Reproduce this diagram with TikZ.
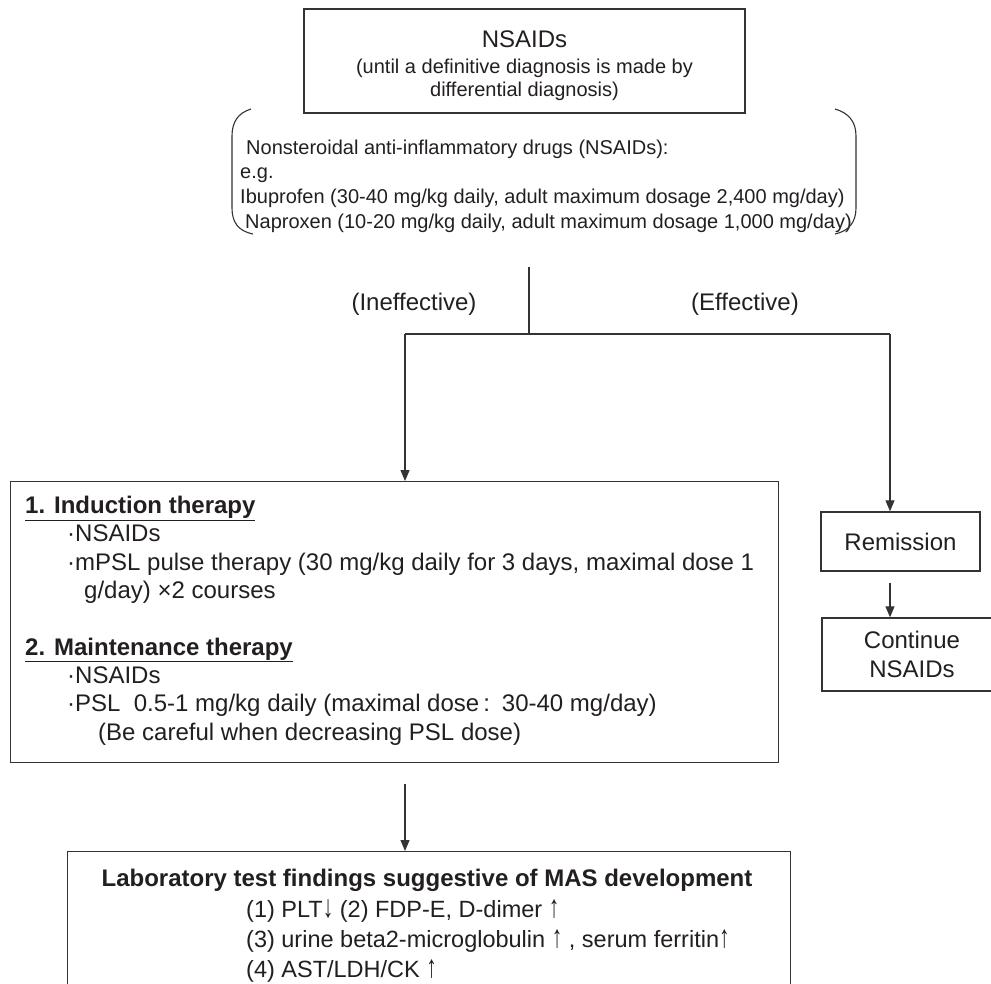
\documentclass[tikz,border=0pt]{standalone}
\usepackage{fontspec}
\setmainfont{Liberation Sans}
\usetikzlibrary{arrows.meta, positioning, calc}
\definecolor{inkgrey}{HTML}{231F20}
\definecolor{linegrey}{HTML}{333333}
\newcommand{\uparr}{\scalebox{0.9}[1.35]{↑}}
\newcommand{\downarr}{\scalebox{0.9}[1.35]{↓}}

\begin{document}
\begin{tikzpicture}[
    x=1pt, y=-1pt,
    >={Triangle[length=11pt,width=9pt]},
    every node/.style={text=inkgrey},
    bigtext/.style={font=\fontsize{24}{28.3}\selectfont},
    smalltext/.style={font=\fontsize{20}{24.7}\selectfont},
    box/.style={draw=linegrey, line width=1.4pt, fill=white},
    link/.style={draw=linegrey, line width=1.2pt},
]
\clip (0,0) rectangle (991,983);

% ================= TOP: first-line NSAIDs =================
\node[box, minimum width=441, minimum height=104, inner sep=0pt] (nsaid) at (524.5,61) {};
\node[align=center, inner sep=0pt, font=\fontsize{20}{23.5}\selectfont] (nsaidtext) at ($(nsaid.center)+(0,4.5)$) {{\fontsize{24}{27}\selectfont NSAIDs}\\[2.5pt](until a definitive diagnosis is made by\\differential diagnosis)};

\node[smalltext, align=left, anchor=north west, inner sep=0pt] (drugs) at (240,139.5) {\hspace*{6pt}Nonsteroidal anti-inflammatory drugs (NSAIDs):\\e.g.\\Ibuprofen (30-40 mg/kg daily, adult maximum dosage 2,400 mg/day)\\\hspace*{5pt}Naproxen (10-20 mg/kg daily, adult maximum dosage 1,000 mg/day)};
\draw[link, line width=1.1pt] (251,109) .. controls (238,113) and (232,122) .. (232,136) -- (232,208) .. controls (232,222) and (238,231) .. (253,234);
\draw[link, line width=1.1pt] (835,109) .. controls (849,113) and (856,122) .. (856,136) -- (856,208) .. controls (856,222) and (849,231) .. (835,234);

% ================= SPLIT =================
\coordinate (stem) at (529,267);
\coordinate (split) at (529,334);
\coordinate (splitL) at (405,334);
\coordinate (splitR) at (890,334);
\node[bigtext, anchor=base] (ineff) at (414,310.6) {(Ineffective)};
\node[bigtext, anchor=base] (eff) at (745,310.6) {(Effective)};

% ================= LEFT: induction / maintenance =================
\node[box, minimum width=768, minimum height=281, anchor=north west, inner sep=0pt] (induct) at (10,481) {};
\node[bigtext, align=left, anchor=north west, inner sep=0pt] (inducttext) at ($(induct.north west)+(15,15)$) {\underline{\textbf{1. Induction therapy}}\\\hspace*{42pt}·NSAIDs\\\hspace*{42pt}·mPSL pulse therapy (30 mg/kg daily for 3 days, maximal dose 1\\\hspace*{59pt}g/day) ×2 courses\\[28.3pt]\underline{\textbf{2. Maintenance therapy}}\\\hspace*{42pt}·NSAIDs\\\hspace*{42pt}·PSL\ \ 0.5-1 mg/kg daily (maximal dose\,:\enspace 30-40 mg/day)\\\hspace*{73pt}(Be careful when decreasing PSL dose)};

% ================= RIGHT: remission =================
\node[box, bigtext, minimum width=159, minimum height=59] (remission) at (900.5,541.5) {Remission};
\node[box, bigtext, minimum width=180, minimum height=73, align=center] (cont) at (912,654.5) {Continue\\NSAIDs};

% ================= BOTTOM: laboratory findings =================
\node[box, minimum width=723, minimum height=200, anchor=north west, inner sep=0pt] (lab) at (67,851) {};
\node[font=\fontsize{24}{28}\selectfont\bfseries, anchor=base] (labtitle) at (427,886.6) {Laboratory test findings suggestive of MAS development};
\node[font=\fontsize{23.5}{30}\selectfont, align=left, anchor=north west, inner sep=0pt] (labitems) at (246,899.5) {(1) PLT\downarr\ (2) FDP-E, D-dimer \uparr\\(3) urine beta2-microglobulin \uparr\ , serum ferritin\uparr\\(4) AST/LDH/CK \uparr};

% ================= CONNECTORS =================
\draw[link] (stem) -- (split);
\draw[link] (splitL) -- (splitR);
\draw[link, ->] (splitL) -- (splitL |- induct.north);
\draw[link, ->] (splitR) -- (splitR |- remission.north);
\draw[link, ->, shorten <=11pt] (remission.south -| splitR) -- (cont.north -| splitR);
\draw[link, ->, shorten <=21pt] (induct.south -| splitL) -- (lab.north -| splitL);

\end{tikzpicture}
\end{document}
